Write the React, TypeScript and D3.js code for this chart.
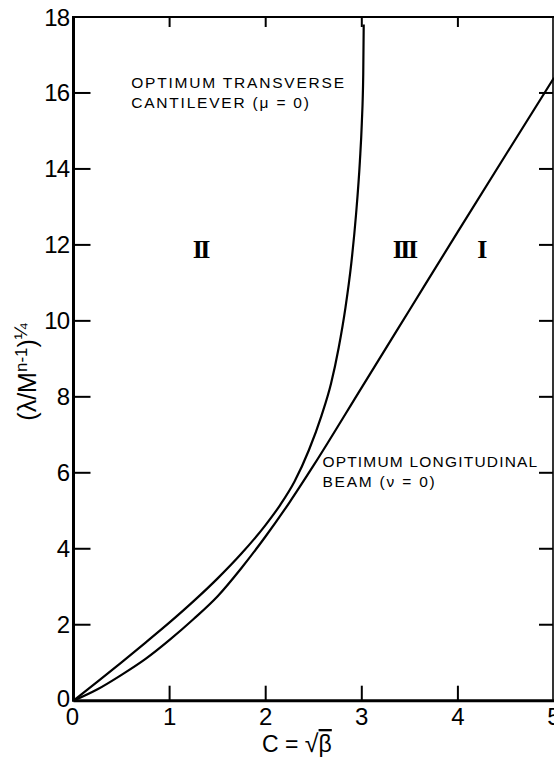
import { useEffect, useRef } from 'react'
import * as d3 from 'd3'

const xTicks = [0, 1, 2, 3, 4, 5]
const yTicks = [0, 2, 4, 6, 8, 10, 12, 14, 16, 18]

// optimum transverse cantilever (mu = 0)
const transverseC = [0, 0.25, 0.5, 0.75, 1.0, 1.25, 1.5, 1.75, 2.0, 2.15, 2.3, 2.45, 2.58, 2.68, 2.76, 2.83, 2.89, 2.94, 2.98, 3.0, 3.015, 3.02]
const transverseL = [0, 0.5, 1.01, 1.53, 2.06, 2.62, 3.22, 3.88, 4.63, 5.15, 5.77, 6.6, 7.5, 8.35, 9.3, 10.35, 11.5, 12.8, 14.2, 15.2, 16.5, 17.8]

// optimum longitudinal beam (nu = 0)
const longitudinalC = [0, 0.25, 0.5, 0.75, 1.0, 1.25, 1.5, 1.75, 2.0, 2.25, 2.5, 3.0, 3.5, 4.0, 4.5, 5.0]
const longitudinalL = [0, 0.3, 0.68, 1.1, 1.6, 2.15, 2.75, 3.5, 4.33, 5.23, 6.2, 8.25, 10.3, 12.35, 14.38, 16.4]

const regionNames = ['II', 'III', 'I']
const regionC = [1.32, 3.44, 4.24]
const regionL = [11.9, 11.9, 11.9]

const W = 554
const H = 760

export default function App() {
  const svgRef = useRef<SVGSVGElement>(null)

  useEffect(() => {
    if (!svgRef.current) return
    const svg = d3.select(svgRef.current)
    svg.selectAll('*').remove()

    const left = 73.5
    const right = 554
    const top = 17
    const bottom = 700.7

    const x = d3.scaleLinear().domain([0, 5]).range([left, right])
    const y = d3.scaleLinear().domain([0, 18]).range([bottom, top])

    const sans = '"Liberation Sans", Arial, sans-serif'

    // frame
    svg.append('line').attr('x1', left).attr('x2', left).attr('y1', top - 1).attr('y2', bottom + 1)
      .style('stroke', '#000').style('stroke-width', 3)
    svg.append('line').attr('x1', left).attr('x2', right).attr('y1', bottom).attr('y2', bottom)
      .style('stroke', '#000').style('stroke-width', 3)
    svg.append('line').attr('x1', left).attr('x2', right).attr('y1', top).attr('y2', top)
      .style('stroke', '#000').style('stroke-width', 2.2)
    svg.append('line').attr('x1', 553).attr('x2', 553).attr('y1', top).attr('y2', bottom)
      .style('stroke', '#000').style('stroke-width', 1.6)

    // ticks
    const inner = xTicks.filter((d) => d > 0 && d < 5)
    svg.selectAll('.xtb').data(inner).enter().append('line')
      .attr('x1', (d) => x(d)).attr('x2', (d) => x(d))
      .attr('y1', bottom).attr('y2', bottom - 15)
      .style('stroke', '#000').style('stroke-width', 2)
    svg.selectAll('.xtt').data(inner).enter().append('line')
      .attr('x1', (d) => x(d)).attr('x2', (d) => x(d))
      .attr('y1', top).attr('y2', top + 10)
      .style('stroke', '#000').style('stroke-width', 2)
    const innerY = yTicks.filter((d) => d > 0 && d < 18)
    svg.selectAll('.ytl').data(innerY).enter().append('line')
      .attr('x1', left).attr('x2', left + 17)
      .attr('y1', (d) => y(d)).attr('y2', (d) => y(d))
      .style('stroke', '#000').style('stroke-width', 2)
    svg.selectAll('.ytr').data(innerY).enter().append('line')
      .attr('x1', 553).attr('x2', 539)
      .attr('y1', (d) => y(d)).attr('y2', (d) => y(d))
      .style('stroke', '#000').style('stroke-width', 2)

    // tick labels
    svg.selectAll('.xl').data(xTicks).enter().append('text')
      .attr('x', (d) => x(d) - (d === 0 ? 1 : 0)).attr('y', 725)
      .attr('text-anchor', 'middle')
      .style('font-family', sans).style('font-size', '24px')
      .text((d) => d)
    svg.selectAll('.yl').data(yTicks).enter().append('text')
      .attr('x', 69).attr('y', (d) => y(d) + (d === 0 ? 6.5 : 8.5))
      .attr('text-anchor', 'end')
      .style('font-family', sans).style('font-size', '24px')
      .style('letter-spacing', '-1px')
      .text((d) => d)

    // axis titles
    const xt = svg.append('text').attr('x', 262).attr('y', 752)
      .style('font-family', sans).style('font-size', '23px')
    xt.append('tspan').text('C = ')
    xt.append('tspan').text('\u221A').style('font-size', '25px')
    xt.append('tspan').text('\u03B2').style('text-decoration', 'overline')

    const yt = svg.append('text')
      .attr('transform', 'translate(36,372) rotate(-90)')
      .attr('text-anchor', 'middle')
      .style('font-family', sans).style('font-size', '25px')
    yt.append('tspan').text('(\u03BB/M')
    yt.append('tspan').text('n-1').attr('dy', -9).style('font-size', '17px')
    yt.append('tspan').text(')').attr('dy', 9)
    yt.append('tspan').text('\u00BC').attr('dy', -9).style('font-size', '19px')

    // curves
    const line = d3.line<[number, number]>()
      .x((d) => x(d[0]))
      .y((d) => y(d[1]))
      .curve(d3.curveMonotoneX)

    const tPts: [number, number][] = transverseC.map((c, i) => [c, transverseL[i]])
    const lPts: [number, number][] = longitudinalC.map((c, i) => [c, longitudinalL[i]])

    svg.append('path').datum(tPts).attr('d', line)
      .style('fill', 'none').style('stroke', '#000').style('stroke-width', 2.2)
    svg.append('path').datum(lPts).attr('d', line)
      .style('fill', 'none').style('stroke', '#000').style('stroke-width', 2.2)

    // annotations
    const note = (cx: number, cl: number, txt: string, ls: number) =>
      svg.append('text').attr('x', x(cx)).attr('y', y(cl))
        .style('font-family', sans).style('font-size', '15.5px')
        .style('letter-spacing', `${ls}px`)
        .text(txt)
    note(0.6, 16.12, 'OPTIMUM TRANSVERSE', 1.8)
    note(0.6, 15.6, 'CANTILEVER (\u03BC = 0)', 1.8)
    note(2.59, 6.15, 'OPTIMUM LONGITUDINAL', 1.2)
    note(2.59, 5.62, 'BEAM (\u03BD = 0)', 1.8)

    // region numerals
    svg.selectAll('.reg').data(regionNames).enter().append('text')
      .attr('x', (d, i) => x(regionC[i]))
      .attr('y', (d, i) => y(regionL[i]) + 9)
      .attr('text-anchor', 'middle')
      .style('font-family', '"Liberation Serif", "Times New Roman", serif')
      .style('font-weight', 'bold')
      .style('font-size', '26px')
      .style('letter-spacing', '-2.5px')
      .text((d) => d)
  }, [])

  return (
    <>
      <style>{'body{margin:0;background:#fff}'}</style>
      <svg ref={svgRef} width={W} height={H} style={{ display: 'block' }} />
    </>
  )
}
